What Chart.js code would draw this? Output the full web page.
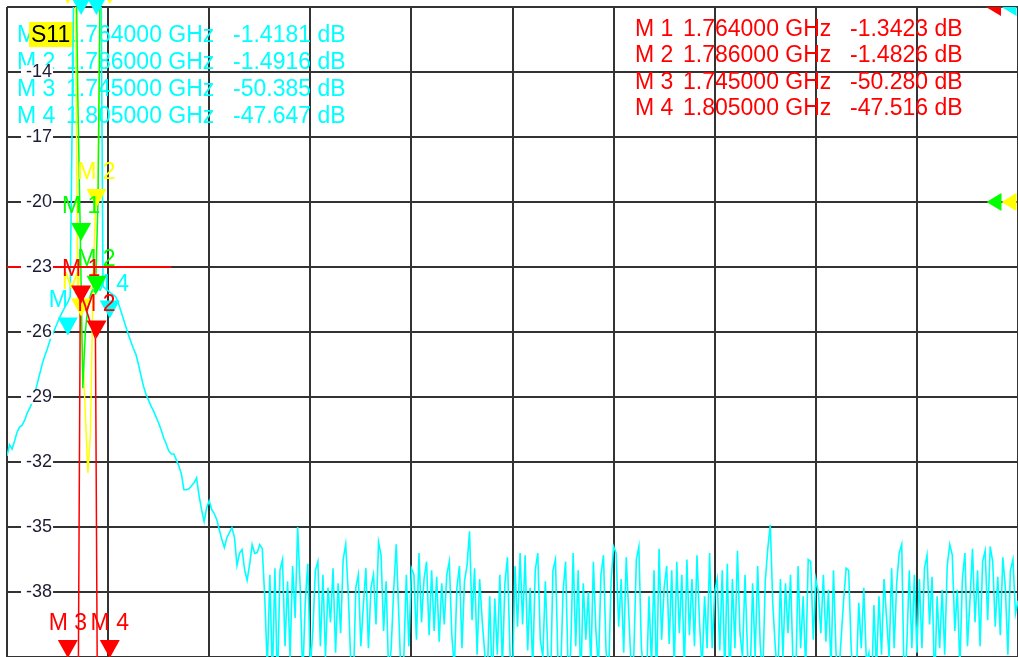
<!DOCTYPE html>
<html>
<head>
<meta charset="utf-8">
<script src="https://cdn.jsdelivr.net/npm/chart.js@4"></script>
<style>
html, body { margin: 0; padding: 0; background: #fff; overflow: hidden; }
canvas { display: block; }
</style>
</head>
<body>
<canvas id="c" width="1018" height="657"></canvas>
<script>
// sweep settings (GHz)
const freqStart = 1.658;
const freqStop = 3.104;
const sweepPoints = 401;

// graticule (dB)
const yTop = -11;
const yBottom = -41;
const yDiv = 3;

// S11 trace, one value per sweep point
const s11Db = [
  -31.72, -31.21, -31.40, -31.03, -30.62, -30.39, -30.30, -30.07, -29.74, -29.51,
  -29.24, -28.83, -28.37, -27.91, -27.45, -27.08, -26.76, -26.39, -26.11, -25.84,
  -25.56, -25.29, -25.06, -24.83, -24.64, -24.37, -14.0, -3.5, -1.6, -1.45,
  -1.42, -1.40, -1.38, -1.40, -1.45, -1.49, -1.8, -6.0, -23.91, -24.00,
  -24.09, -24.19, -24.28, -24.37, -24.64, -25.01, -25.38, -25.75, -26.11, -26.44,
  -26.76, -27.03, -27.49, -28.00, -28.50, -28.87, -29.15, -29.42, -29.65, -29.93,
  -30.20, -30.52, -30.89, -31.17, -31.49, -31.63, -31.63, -31.90, -32.18, -32.55,
  -33.28, -33.28, -33.24, -33.10, -32.96, -32.73, -33.56, -34.20, -34.75, -34.11,
  -33.79, -34.20, -34.38, -34.66, -35.12, -35.58, -35.95, -35.49, -35.26, -35.03,
  -35.49, -36.77, -36.22, -36.04, -36.96, -37.46, -36.73, -35.81, -36.22, -36.18,
  -35.81,
  -36.0, -38.3, -41.5, -37.2, -42.0, -36.9, -42.5, -37.0, -36.5, -40.5, -37.5, -41.0, -36.8, -39.2, -35.0, -37.8, -42.0, -38.5, -36.7, -41.5,
  -39.8, -37.0, -36.6, -40.5, -37.2, -41.0, -37.8, -39.4, -36.9, -40.8, -37.6, -39.9, -36.5, -35.8, -38.0, -41.2, -42.5, -37.8, -37.2, -40.5,
  -38.6, -36.9, -40.6, -37.8, -37.2, -39.5, -35.7, -36.3, -39.8, -37.5, -41.8, -40.6, -37.9, -35.8, -39.0, -42.3, -41.0, -37.2, -40.5, -36.9,
  -37.2, -40.2, -36.2, -39.4, -37.4, -36.6, -40.0, -37.0, -39.8, -37.3, -40.3, -37.6, -39.5, -37.2, -36.6, -40.0, -41.5, -37.8, -36.8, -40.6,
  -37.5, -36.8, -35.2, -39.3, -36.9, -40.9, -37.4, -39.3, -40.8, -42.0, -38.2, -42.5, -38.3, -40.9, -37.2, -41.5, -37.6, -36.4, -40.8, -42.2,
  -36.8, -39.6, -36.2, -39.5, -36.3, -40.7, -37.8, -41.6, -37.0, -36.2, -40.2, -41.0, -37.5, -40.9, -42.5, -37.0, -36.5, -41.3, -42.0, -38.0,
  -36.6, -41.6, -40.8, -36.2, -40.5, -37.0, -42.3, -37.6, -40.2, -38.0, -41.5, -36.6, -39.8, -41.5, -37.2, -36.3, -40.7, -42.0, -37.5, -35.9,
  -36.2, -39.6, -37.4, -40.8, -36.4, -39.0, -41.6, -40.9, -36.5, -35.9, -40.6, -41.8, -42.3, -38.2, -41.4, -37.0, -42.2, -36.0, -40.2, -37.8,
  -36.8, -40.4, -37.0, -41.5, -36.6, -39.9, -37.2, -41.6, -36.5, -40.0, -37.4, -40.5, -36.3, -39.4, -41.6, -38.2, -40.6, -36.2, -40.6, -38.0,
  -37.4, -40.7, -37.0, -41.8, -36.7, -42.5, -37.4, -40.6, -36.1, -39.9, -41.0, -37.2, -40.8, -42.2, -37.6, -41.0, -36.8, -40.4, -42.0, -37.5,
  -36.0, -34.9, -38.6, -40.6, -42.0, -37.4, -41.0, -37.6, -39.9, -37.2, -41.4, -42.5, -36.8, -40.6, -38.2, -41.6, -36.5, -36.6, -40.2, -37.4,
  -38.0, -39.9, -37.2, -40.3, -37.9, -41.5, -37.0, -40.8, -42.0, -40.2, -38.4, -36.9, -37.0, -40.6, -42.3, -42.0, -38.5, -40.6, -37.8, -41.2,
  -40.8, -42.8, -38.6, -41.6, -38.2, -40.9, -37.4, -39.2, -41.0, -36.9, -40.6, -37.6, -36.2, -35.8, -42.5, -40.5, -37.0, -40.6, -37.2, -40.8,
  -37.4, -40.6, -36.9, -36.3, -39.5, -37.3, -42.4, -38.2, -40.6, -37.9, -40.9, -36.8, -35.8, -36.3, -39.8, -37.9, -41.5, -37.4, -36.2, -40.5,
  -38.4, -36.0, -39.4, -37.0, -40.5, -36.6, -36.1, -39.3, -35.9, -36.6, -39.6, -37.3, -40.0, -36.4, -37.8, -40.9, -37.0, -36.5, -39.0, -38.4
];

// the other three traces only show up around the passband (sweep points 22..42)
const bandStart = 22;
const yellowDb = [-5, -5, -5, -5, -6, -9, -24.5, -25.3, -27.0, -29.8, -32.5, -30.7, -24.0, -20.3, -19.5, -9, -5, -5, -5, -5, -5];
const greenDb = [-5, -5, -5, -5, -5, -6, -15, -21.5, -28.6, -26.0, -24.8, -24.3, -24.0, -24.2, -20.0, -8, -5, -5, -5, -5, -5];
const redDb = [-50, -50, -50.3, -50, -49, -48, -47, -24.0, -24.7, -24.9, -25.2, -25.6, -26.0, -26.3, -48, -48.5, -49, -48, -47.5, -47.5, -48];

// red reference line
const refLineFreq = [1.658, 1.893];
const refLineDb = [-23, -23];

// markers
const markerNames = ['M 1', 'M 2', 'M 3', 'M 4'];
const markerFreq = [1.764, 1.786, 1.745, 1.805];
const cyanMarkerDb = [-1.4181, -1.4916, -26.16, -25.38];
const yellowMarkerDb = [-25.29, -20.23, -5, -5];
const greenMarkerDb = [-21.80, -24.23, null, null];
const redMarkerDb = [-24.69, -26.30, -50.280, -47.516];

// marker readouts
const cyanReadFreq = ['1.764000 GHz', '1.786000 GHz', '1.745000 GHz', '1.805000 GHz'];
const cyanReadVal = ['-1.4181 dB', '-1.4916 dB', '-50.385 dB', '-47.647 dB'];
const redReadFreq = ['1.764000 GHz', '1.786000 GHz', '1.745000 GHz', '1.805000 GHz'];
const redReadVal = ['-1.3423 dB', '-1.4826 dB', '-50.280 dB', '-47.516 dB'];

// reference level arrows at the right edge
const refArrowDb = [-11, -11, -20, -20];

const CYAN = '#00ffff', YELLOW = '#ffff00', GREEN = '#00ff00', RED = '#ff0000';
const GRID = '#333333';
const FONT = '"Liberation Sans", Arial, sans-serif';

const step = (freqStop - freqStart) / (sweepPoints - 1);
const toXY = (arr, start) => arr.map((v, k) => ({ x: freqStart + (start + k) * step, y: v }));

const markerSets = [
  { color: CYAN, db: cyanMarkerDb, topTip: 8 },
  { color: YELLOW, db: yellowMarkerDb, topTip: -3 },
  { color: GREEN, db: greenMarkerDb, topTip: 8 },
  { color: RED, db: redMarkerDb, topTip: 8 }
];
const refArrows = [
  { color: RED, inset: 32 },
  { color: CYAN, inset: 16.5 },
  { color: GREEN, inset: 31.5 },
  { color: YELLOW, inset: 16.5 }
];

function triangle(ctx, cx, tip, color) {
  ctx.fillStyle = color;
  ctx.beginPath();
  ctx.moveTo(cx - 10, tip - 18);
  ctx.lineTo(cx + 10, tip - 18);
  ctx.lineTo(cx, tip);
  ctx.closePath();
  ctx.fill();
}

const overlay = {
  id: 'overlay',
  beforeDatasetsDraw(chart) {
    const ctx = chart.ctx;
    ctx.save();
    ctx.font = '23px ' + FONT;
    ctx.textAlign = 'left';
    ctx.textBaseline = 'alphabetic';

    ctx.fillStyle = CYAN;
    markerNames.forEach((m, k) => {
      const by = 41.7 + k * 27.2;
      ctx.fillText(m, 17, by);
      ctx.fillText(cyanReadFreq[k], 66, by);
      ctx.fillText(cyanReadVal[k], 233, by);
    });

    ctx.fillStyle = RED;
    markerNames.forEach((m, k) => {
      const by = 36 + k * 26.3;
      ctx.fillText(m, 635, by);
      ctx.fillText(redReadFreq[k], 683, by);
      ctx.fillText(redReadVal[k], 850, by);
    });

    // trace tag
    ctx.fillStyle = YELLOW;
    ctx.fillRect(29, 22, 44, 25);
    ctx.fillStyle = '#000';
    ctx.fillText('S11', 31, 41.7);
    ctx.restore();
  },
  afterDatasetsDraw(chart) {
    const { ctx, chartArea: a, scales: { x, y } } = chart;

    ctx.save();
    ctx.beginPath();
    ctx.rect(a.left, a.top, a.right - a.left, a.bottom - a.top);
    ctx.clip();
    refArrows.forEach((r, k) => {
      const py = y.getPixelForValue(refArrowDb[k]);
      const tip = a.right - r.inset;
      ctx.fillStyle = r.color;
      ctx.beginPath();
      ctx.moveTo(tip, py);
      ctx.lineTo(tip + 15, py - 9);
      ctx.lineTo(tip + 15, py + 9);
      ctx.closePath();
      ctx.fill();
    });
    ctx.restore();

    ctx.save();
    ctx.font = '23px ' + FONT;
    ctx.textAlign = 'center';
    ctx.textBaseline = 'alphabetic';
    markerSets.forEach(set => {
      set.db.forEach((v, k) => {
        if (v === null) return;
        const px = x.getPixelForValue(markerFreq[k]);
        if (v > yTop) {
          triangle(ctx, px, a.top + set.topTip, set.color);
          return;
        }
        const tip = v < yBottom ? a.bottom + 1 : y.getPixelForValue(v);
        triangle(ctx, px, tip, set.color);
        ctx.fillStyle = set.color;
        ctx.fillText(markerNames[k], px, tip - 28);
      });
    });
    ctx.restore();
  }
};

new Chart(document.getElementById('c'), {
  type: 'line',
  data: {
    datasets: [
      { data: refLineFreq.map((f, k) => ({ x: f, y: refLineDb[k] })), borderColor: RED, borderWidth: 2 },
      { data: toXY(redDb, bandStart), borderColor: RED },
      { data: toXY(greenDb, bandStart), borderColor: GREEN },
      { data: toXY(yellowDb, bandStart), borderColor: YELLOW },
      { data: toXY(s11Db, 0), borderColor: CYAN, borderWidth: 1.6 }
    ]
  },
  options: {
    responsive: false,
    animation: false,
    devicePixelRatio: 1,
    layout: { padding: { left: 7, top: 7, right: -1.5, bottom: -3 } },
    elements: {
      point: { radius: 0 },
      line: { borderWidth: 1.5, tension: 0 }
    },
    plugins: { legend: { display: false }, tooltip: { enabled: false } },
    scales: {
      x: {
        type: 'linear',
        min: freqStart,
        max: freqStop,
        border: { display: false },
        grid: { color: GRID, lineWidth: 2, drawTicks: false },
        ticks: { display: false },
        afterBuildTicks: s => {
          s.ticks = Array.from({ length: 11 }, (_, k) => ({ value: freqStart + k * (freqStop - freqStart) / 10 }));
        }
      },
      y: {
        type: 'linear',
        min: yBottom,
        max: yTop,
        border: { display: false },
        grid: { color: GRID, lineWidth: 2, drawTicks: false },
        afterBuildTicks: s => {
          s.ticks = Array.from({ length: 11 }, (_, k) => ({ value: yBottom + k * yDiv }));
        },
        ticks: {
          mirror: true,
          padding: 19,
          z: 1,
          color: '#1c1c34',
          font: { family: FONT, size: 18, lineHeight: 0.75 },
          callback: v => (v <= yBottom || v >= yTop) ? '' : String(v),
          showLabelBackdrop: c => !!c.tick && c.tick.value > yBottom && c.tick.value < yTop,
          backdropColor: '#ffffff',
          backdropPadding: { top: 0, bottom: 0, left: 5, right: 1 }
        },
        afterFit: s => { s.width = 0; s.paddingTop = 0; s.paddingBottom = 0; }
      }
    }
  },
  plugins: [overlay]
});
</script>
</body>
</html>
